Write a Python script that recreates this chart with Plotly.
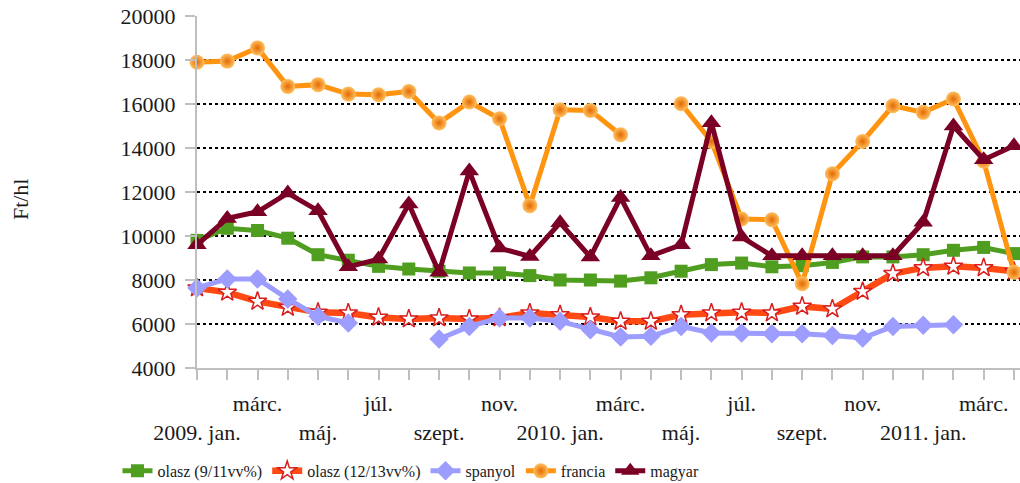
import plotly.graph_objects as go

months = list(range(28))
tick_labels = ["<br>2009. jan.", "", "márc.", "", "<br>máj.", "", "júl.", "", "<br>szept.", "", "nov.", "",
               "<br>2010. jan.", "", "márc.", "", "<br>máj.", "", "júl.", "", "<br>szept.", "", "nov.", "",
               "<br>2011. jan.", "", "márc.", ""]
y_ticks = [4000, 6000, 8000, 10000, 12000, 14000, 16000, 18000, 20000]
y_tick_labels = ["4000", "6000", "8000", "10000", "12000", "14000", "16000", "18000", "20000"]

olasz_9_11 = [9800, 10350, 10250, 9900, 9150, 8900, 8620, 8500, 8400, 8320, 8320, 8200, 8000, 8000,
              7950, 8100, 8400, 8700, 8770, 8600, 8650, 8800, 9050, 9050, 9150, 9350, 9480, 9200]
olasz_12_13 = [7640, 7440, 7030, 6750, 6530, 6500, 6300, 6230, 6270, 6230, 6280, 6500, 6420, 6320,
               6120, 6120, 6420, 6500, 6530, 6500, 6800, 6680, 7480, 8290, 8550, 8620, 8550, 8400]
spanyol = [7640, 8050, 8050, 7140, 6350, 6050, None, None, 5320, 5890, 6270, 6270, 6120, 5740,
           5410, 5440, 5890, 5590, 5590, 5560, 5560, 5480, 5360, 5890, 5940, 5970, None, None]
francia = [17900, 17950, 18550, 16800, 16880, 16450, 16420, 16570, 15140, 16090, 15330, 11380, 15740, 15710,
           14600, None, 16010, 14300, 10770, 10740, 7830, 12830, 14300, 15920, 15620, 16230, 13400, 8350]
magyar = [9600, 10800, 11100, 11950, 11150, 8600, 8950, 11450, 8350, 12950, 9450, 9070, 10600, 9050,
          11750, 9100, 9600, 15150, 9950, 9100, 9100, 9100, 9100, 9100, 10620, 15000, 13470, 14100]

FONT = "Liberation Serif"

fig = go.Figure()
fig.add_trace(go.Scatter(x=months, y=olasz_9_11, name="olasz (9/11vv%)", mode="lines+markers",
                         line=dict(color="#4f9e1f", width=5),
                         marker=dict(symbol="square", size=13, color="#4f9e1f"), cliponaxis=False))
fig.add_trace(go.Scatter(x=months, y=olasz_12_13, name="olasz (12/13vv%)", mode="lines+markers",
                         line=dict(color="#ff4a14", width=6.5),
                         marker=dict(symbol="star", size=14, color="white", line=dict(color="#d81e1e", width=1.5)),
                         cliponaxis=False))
fig.add_trace(go.Scatter(x=months, y=spanyol, name="spanyol", mode="lines+markers",
                         line=dict(color="#9d9dff", width=5),
                         marker=dict(symbol="diamond", size=15, color="#9d9dff"), cliponaxis=False))
fig.add_trace(go.Scatter(x=months, y=francia, name="francia", mode="lines+markers",
                         line=dict(color="#ff9410", width=5),
                         marker=dict(symbol="circle", size=15, color="#ffc060",
                                     gradient=dict(type="radial", color="#e46a00")), cliponaxis=False))
fig.add_trace(go.Scatter(x=months, y=magyar, name="magyar", mode="lines+markers",
                         line=dict(color="#7a0025", width=5),
                         marker=dict(symbol="triangle-up", size=17, color="#7a0025"), cliponaxis=False))

fig.update_layout(
    width=1020, height=483,
    margin=dict(l=197, r=0, t=16, b=115),
    paper_bgcolor="white", plot_bgcolor="white",
    font=dict(family=FONT, size=22, color="#1a1a1a"),
    showlegend=True,
    legend=dict(orientation="h", x=0.26, xanchor="center", yref="container", y=0.025, yanchor="middle",
                font=dict(family=FONT, size=16, color="#1a1a1a"), itemwidth=30,
                bgcolor="rgba(0,0,0,0)"),
    xaxis=dict(range=[0, 27.2], tickmode="array", tickvals=months, ticktext=tick_labels,
               showgrid=False, zeroline=False, showline=True, linecolor="#bfbfbf", linewidth=2,
               ticks="outside", ticklen=10, tickcolor="#bfbfbf", tickwidth=2, automargin=False,
               ticklabelstandoff=5, tickfont=dict(family=FONT, size=22), tickangle=0),
    yaxis=dict(range=[4000, 20000], tickmode="array", tickvals=y_ticks, ticktext=y_tick_labels,
               showgrid=True, gridcolor="black", gridwidth=2, griddash="3px,3px",
               zeroline=False, showline=True, linecolor="#bfbfbf", linewidth=2,
               ticks="outside", ticklen=10, tickcolor="#bfbfbf", tickwidth=2, automargin=False,
               ticklabelstandoff=5, tickfont=dict(family=FONT, size=22)),
    annotations=[dict(text="Ft/hl", xref="paper", yref="paper", x=-0.215, y=0.48, showarrow=False,
                      textangle=-90, font=dict(family=FONT, size=22, color="#1a1a1a"),
                      xanchor="center", yanchor="middle")],
)

fig.write_html("out.html", config={"displayModeBar": False},
               post_script="document.body.style.margin='0';document.body.style.overflow='hidden';")
